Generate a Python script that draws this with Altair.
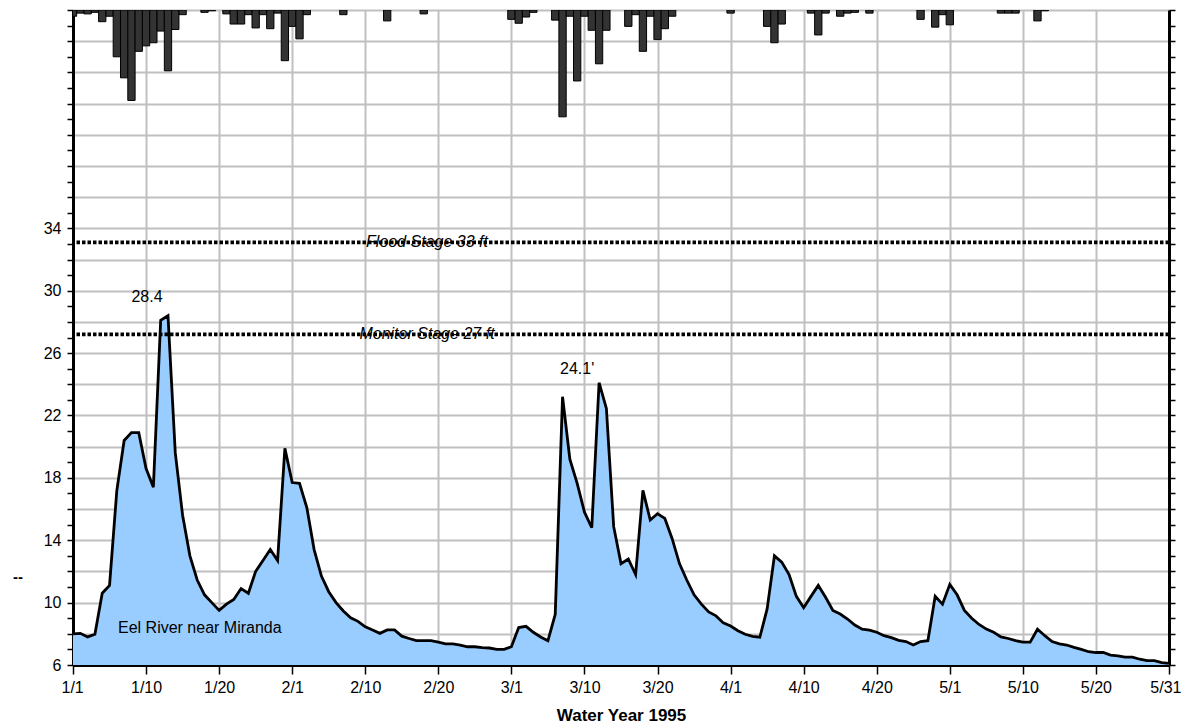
import altair as alt
import pandas as pd

# ---------------- data ----------------
x_labels = ["1/1", "1/10", "1/20", "2/1", "2/10", "2/20", "3/1", "3/10",
            "3/20", "4/1", "4/10", "4/20", "5/1", "5/10", "5/20", "5/31"]

# daily river stage (ft), day 0 = 1/1 ... day 150 = 5/31
stage_ft = [
    8.0, 8.03, 7.8, 7.97, 10.6, 11.1, 17.2, 20.4, 20.9, 20.9,
    18.6, 17.4, 28.1, 28.4, 19.6, 15.6, 13.0, 11.45, 10.5, 10.0,
    9.5, 9.9, 10.2, 10.9, 10.6, 12.0, 12.7, 13.4, 12.7, 19.9,
    17.7, 17.65, 16.1, 13.4, 11.7, 10.7, 10.0, 9.46, 9.03, 8.8,
    8.45, 8.25, 8.03, 8.25, 8.25, 7.85, 7.7, 7.56, 7.56, 7.56,
    7.47, 7.35, 7.35, 7.28, 7.17, 7.17, 7.11, 7.09, 7.0, 7.0,
    7.17, 8.4, 8.48, 8.1, 7.8, 7.56, 9.25, 23.2, 19.2, 17.65,
    15.8, 14.8, 24.1, 22.45, 14.87, 12.5, 12.8, 11.8, 17.2, 15.3,
    15.7, 15.4, 14.1, 12.5, 11.45, 10.5, 9.9, 9.4, 9.15, 8.7,
    8.5, 8.2, 7.97, 7.84, 7.78, 9.6, 13.0, 12.6, 11.8, 10.4,
    9.67, 10.4, 11.1, 10.34, 9.5, 9.27, 8.95, 8.56, 8.3, 8.24,
    8.1, 7.88, 7.75, 7.58, 7.5, 7.28, 7.5, 7.56, 10.4, 9.9,
    11.17, 10.5, 9.5, 9.0, 8.6, 8.3, 8.1, 7.8, 7.7, 7.56,
    7.47, 7.47, 8.29, 7.88, 7.5, 7.35, 7.28, 7.13, 7.0, 6.85,
    6.8, 6.8, 6.64, 6.58, 6.5, 6.5, 6.37, 6.28, 6.28, 6.15,
    6.1,
]

# daily precipitation (in) on days with rain
precip_days = [0, 1, 2, 3, 4, 5, 6, 7, 8, 9, 10, 11, 12, 13, 14, 15,
               18, 19, 21, 22, 23, 24, 25, 26, 27, 28, 29, 30, 31, 32,
               37, 43, 48, 60, 61, 62, 63, 66, 67, 68, 69, 70, 71, 72,
               73, 76, 77, 78, 79, 80, 81, 82, 90, 95, 96, 97, 101, 102,
               103, 105, 106, 107, 109, 116, 118, 119, 120, 127, 128,
               129, 132, 133]
precip_in = [0.08, 0.04, 0.05, 0.03, 0.15, 0.08, 0.60, 0.87, 1.16, 0.53,
             0.46, 0.42, 0.27, 0.78, 0.25, 0.06,
             0.03, 0.01, 0.05, 0.18, 0.18, 0.06, 0.23, 0.06, 0.24, 0.04,
             0.65, 0.21, 0.37, 0.06,
             0.06, 0.14, 0.05, 0.12, 0.17, 0.09, 0.03, 0.13, 1.37, 0.08,
             0.91, 0.08, 0.26, 0.69,
             0.26, 0.21, 0.06, 0.53, 0.08, 0.38, 0.24, 0.08, 0.04, 0.21,
             0.42, 0.18, 0.04, 0.32,
             0.04, 0.08, 0.04, 0.03, 0.04, 0.12, 0.22, 0.06, 0.19, 0.04,
             0.04, 0.04, 0.14, 0.01]

stage_names = ["Flood Stage 33 ft", "Monitor Stage 27 ft"]
stage_levels = [33.1, 27.2]   # where the dotted lines sit in the picture

peak_days = [13, 72]
peak_labels = ["28.4", "24.1'"]

river_name = "Eel River near Miranda"

# ---------------- frames ----------------
stage_df = pd.DataFrame({"day": list(range(len(stage_ft))), "stage": stage_ft})
precip_df = pd.DataFrame({"day": precip_days, "precip": precip_in})
levels_df = pd.DataFrame({"stage": stage_levels, "label": stage_names})
peaks_df = pd.DataFrame({"day": peak_days,
                         "stage": [stage_ft[d] for d in peak_days],
                         "label": peak_labels})

FONT = "Liberation Sans"
W, H = 1096, 655

label_array = "[" + ",".join("'%s'" % s for s in x_labels) + "]"
x_scale = alt.Scale(domain=[0, 150], nice=False, zero=False)
x_axis = alt.Axis(
    values=list(range(0, 151, 10)),
    labelExpr=label_array + "[round(datum.value / 10)]",
    grid=True, gridColor="#c0c0c0", gridWidth=2,
    tickSize=9, tickColor="black", tickWidth=1.5,
    domainColor="black", domainWidth=3,
    labelFontSize=16, labelColor="black", labelPadding=5, labelFont=FONT,
    labelOverlap=False, labelFlush=True, labelFlushOffset=12,
    title="Water Year 1995", titleFontSize=17, titleFontWeight="bold",
    titleColor="black", titlePadding=12, titleFont=FONT,
)


def xenc(field):
    return alt.X(field, type="quantitative", scale=x_scale, axis=x_axis,
                 title="Water Year 1995")


y_scale = alt.Scale(domain=[6, 48], nice=False, zero=False)
y_axis = alt.Axis(
    orient="left",
    values=list(range(6, 49)),
    labelExpr="(datum.value % 4 == 2 && datum.value <= 34) ? datum.label : ''",
    gridOpacity={"condition": {"test": "datum.value % 2 == 0", "value": 1}, "value": 0},
    gridColor="#c0c0c0", gridWidth=2,
    tickSize=6, tickColor="black", tickWidth=1.5,
    domainColor="black", domainWidth=3,
    labelFontSize=16, labelColor="black", labelPadding=6, labelFont=FONT,
    labelOverlap=False, title=None,
)
y_stage = alt.Y("stage:Q", scale=y_scale, axis=y_axis, title=None)

area = alt.Chart(stage_df).mark_area(
    color="#99CCFF", opacity=1,
    line={"color": "black", "strokeWidth": 2.8, "strokeJoin": "miter"},
).encode(x=xenc("day"), y=y_stage, y2=alt.Y2(datum=6))

rules = alt.Chart(levels_df).mark_rule(
    color="black", strokeWidth=3.8, strokeDash=[3.5, 2]
).encode(y=y_stage)

level_text = alt.Chart(levels_df).mark_text(
    font=FONT, fontSize=16, fontStyle="italic", color="black", align="center",
    baseline="middle",
).encode(x=alt.value(354), y=y_stage, text="label:N")

peak1 = alt.Chart(peaks_df.iloc[[0]]).mark_text(
    font=FONT, fontSize=16, color="black", dx=-21, dy=-19, baseline="middle"
).encode(x=xenc("day"), y=y_stage, text="label:N")
peak2 = alt.Chart(peaks_df.iloc[[1]]).mark_text(
    font=FONT, fontSize=16, color="black", dx=-22, dy=-14, baseline="middle"
).encode(x=xenc("day"), y=y_stage, text="label:N")

river_text = alt.Chart(pd.DataFrame({"label": [river_name]})).mark_text(
    font=FONT, fontSize=16, color="black", align="left", baseline="middle"
).encode(x=alt.value(45), y=alt.value(618), text="label:N")

dash_text = alt.Chart(pd.DataFrame({"label": ["--"]})).mark_text(
    font=FONT, fontSize=15, fontWeight="bold", color="black", align="center",
    baseline="middle"
).encode(x=alt.value(-55), y=alt.value(567), text="label:N")

stage_layer = alt.layer(area, rules, level_text, peak1, peak2, river_text, dash_text)

bars = alt.Chart(precip_df).transform_calculate(
    x0="datum.day - 0.5", x1="datum.day + 0.5"
).mark_bar(color="#333333", stroke="black", strokeWidth=1, clip=True, opacity=1).encode(
    x=xenc("x0"),
    x2="x1:Q",
    y=alt.Y("precip:Q",
            scale=alt.Scale(domain=[0, 8.4], reverse=True, nice=False, zero=True),
            axis=alt.Axis(orient="right", values=[round(i * 0.2, 1) for i in range(43)],
                          labels=False, grid=False, ticks=True, tickSize=6,
                          tickColor="black", tickWidth=1.5, domainColor="black",
                          domainWidth=3, title=None)),
    y2=alt.Y2(datum=0),
)

chart = alt.layer(stage_layer, bars).resolve_scale(y="independent").properties(
    width=W, height=H,
    autosize=alt.AutoSizeParams(type="none"),
    padding={"left": 73, "top": 10, "right": 12, "bottom": 63},
    background="white",
).configure_view(stroke="black", strokeWidth=2).configure(font=FONT)

chart.save("out.html", embed_options={"renderer": "svg", "actions": False})
